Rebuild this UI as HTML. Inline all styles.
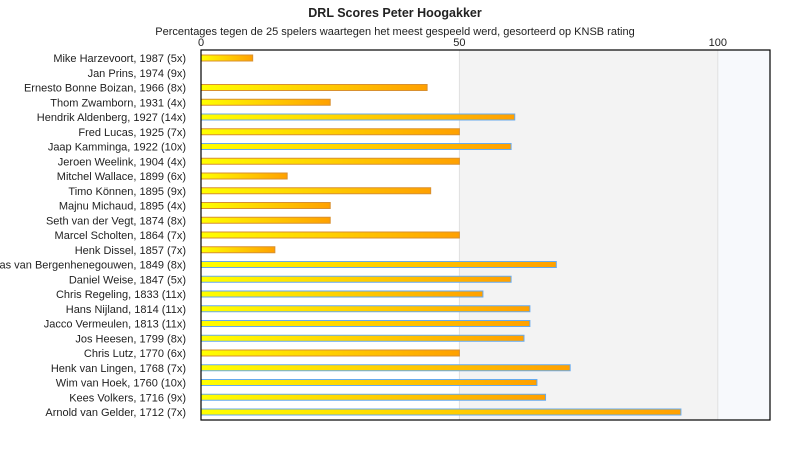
<!DOCTYPE html>
<html><head><meta charset="utf-8"><style>
body{margin:0;background:#fff;font-family:"Liberation Sans","DejaVu Sans",sans-serif;}
svg text{font-family:"Liberation Sans","DejaVu Sans",sans-serif;fill:#222;}
</style></head><body>
<svg id="chart" width="790" height="450" xmlns="http://www.w3.org/2000/svg">
<defs><linearGradient id="g" x1="0" x2="1" y1="0" y2="0"><stop offset="0" stop-color="#ffff00"/><stop offset="1" stop-color="#ffa000"/></linearGradient></defs>
<text x="395" y="17" text-anchor="middle" font-size="12.5" font-weight="bold">DRL Scores Peter Hoogakker</text>
<text x="395" y="35" text-anchor="middle" font-size="11">Percentages tegen de 25 spelers waartegen het meest gespeeld werd, gesorteerd op KNSB rating</text>
<g id="plot"></g>
</svg>
<script>
const players=["Mike Harzevoort, 1987 (5x)","Jan Prins, 1974 (9x)","Ernesto Bonne Boizan, 1966 (8x)","Thom Zwamborn, 1931 (4x)","Hendrik Aldenberg, 1927 (14x)","Fred Lucas, 1925 (7x)","Jaap Kamminga, 1922 (10x)","Jeroen Weelink, 1904 (4x)","Mitchel Wallace, 1899 (6x)","Timo Können, 1895 (9x)","Majnu Michaud, 1895 (4x)","Seth van der Vegt, 1874 (8x)","Marcel Scholten, 1864 (7x)","Henk Dissel, 1857 (7x)","Bas van Bergenhenegouwen, 1849 (8x)","Daniel Weise, 1847 (5x)","Chris Regeling, 1833 (11x)","Hans Nijland, 1814 (11x)","Jacco Vermeulen, 1813 (11x)","Jos Heesen, 1799 (8x)","Chris Lutz, 1770 (6x)","Henk van Lingen, 1768 (7x)","Wim van Hoek, 1760 (10x)","Kees Volkers, 1716 (9x)","Arnold van Gelder, 1712 (7x)"];
const scores=[10,0,43.75,25,60.71,50,60,50,16.67,44.44,25,25,50,14.29,68.75,60,54.55,63.64,63.64,62.5,50,71.43,65,66.67,92.86];
const ticks=[0,50,100];
const L=201,R=770,T=50,B=420,xmax=110.1;
const x=v=>L+v/xmax*(R-L);
const y=i=>T+8+i*(B-T-16)/(players.length-1);
const NS="http://www.w3.org/2000/svg";
const p=document.getElementById('plot');
function mk(t,a){const e=document.createElementNS(NS,t);for(const k in a)e.setAttribute(k,a[k]);p.appendChild(e);return e;}
let r;
r=mk('rect',{x:x(50),y:T,width:x(100)-x(50),height:B-T,fill:'#f3f3f3'});


r=mk('rect',{x:x(100),y:T,width:R-x(100),height:B-T,fill:'#f7f9fc'});


ticks.forEach(t=>{
 const l=mk('line',{x1:x(t),x2:x(t),y1:T,y2:B,stroke:'#e0e0e0'});
 
 
 const tx=mk('text',{x:x(t),y:T-4,'font-size':11,'text-anchor':'middle'});tx.textContent=t;
 
 
});
players.forEach((n,i)=>{
 const cy=y(i);
 const lb=mk('text',{x:186,y:cy+4,'font-size':11,'text-anchor':'end'});lb.textContent=n;
 
 
 if(scores[i]>0){
  const b=mk('rect',{x:L,y:cy-3,width:x(scores[i])-L,height:6,fill:'url(#g)',stroke:scores[i]>50?'#66aaee':'#d89030','stroke-width':1});
  
  
 }
});
r=mk('rect',{x:L,y:T,width:R-L,height:B-T,fill:'none',stroke:'#000','stroke-width':1.2});


</script>
</body></html>
